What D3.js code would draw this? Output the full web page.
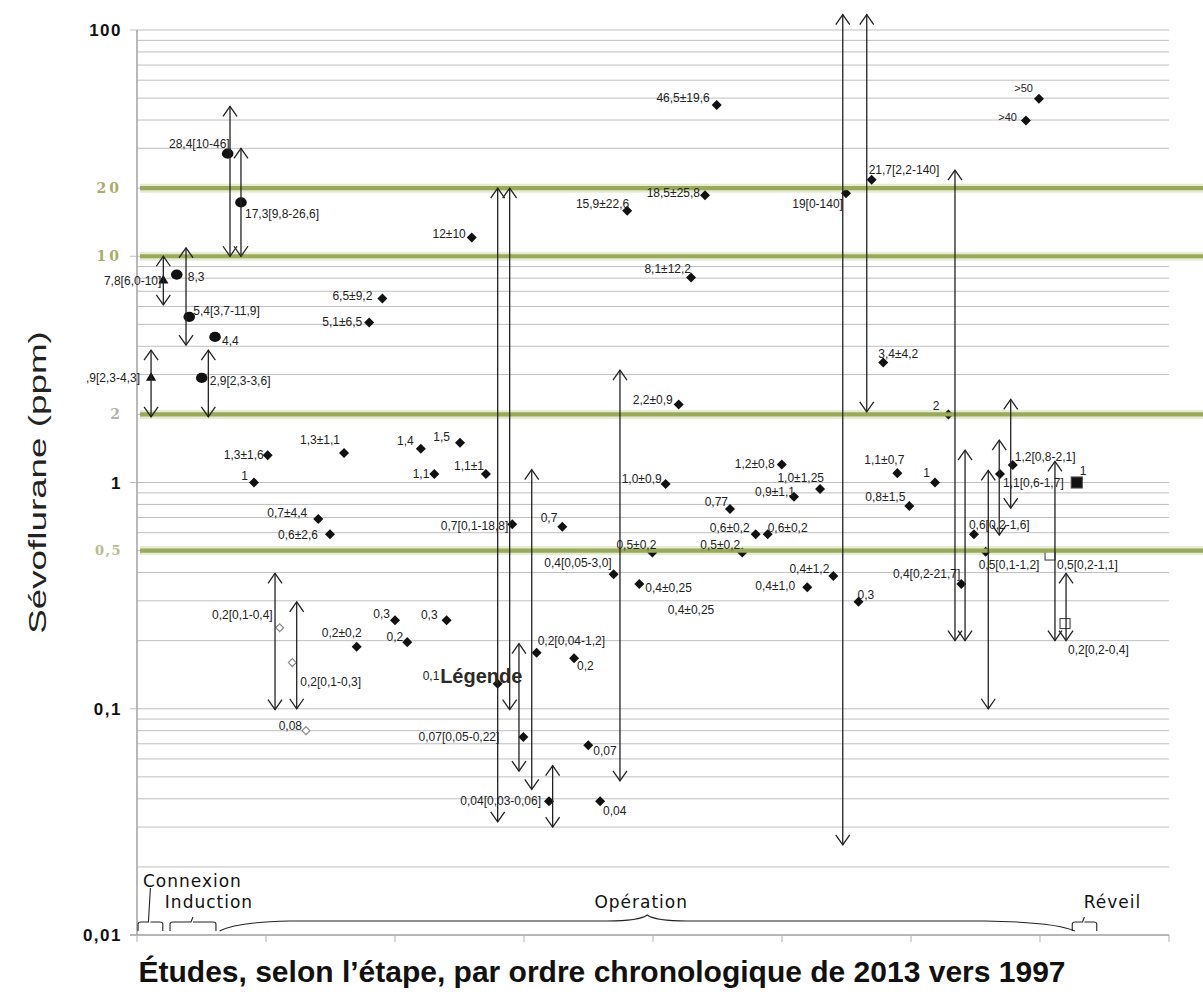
<!DOCTYPE html>
<html>
<head>
<meta charset="utf-8">
<script src="https://cdn.jsdelivr.net/npm/d3@7"></script>
<style>
  body { margin: 0; background: #fff; }
  text { font-family: "Liberation Sans", Arial, sans-serif; }
</style>
</head>
<body>
<div class="chart"></div>
<script>
// ---- data (x = study rank, value = sevoflurane ppm) ----
const studyX = [1.09, 2.04, 3.08, 4.05, 5.02, 6.05, 7.03, 8.06, 9.07, 10.13,
  11.06, 12.04, 13.1, 14.05, 14.96, 16.05, 17.03, 18.0, 19.02, 20.0,
  20.95, 22.0, 23.05, 24.0, 25.04, 25.95, 27.05, 27.96, 29.09, 29.95,
  30.98, 31.94, 32.97, 33.88, 34.98, 35.9, 36.95, 38.0, 38.94, 39.95,
  40.98, 40.98, 41.99, 42.95, 44.03, 44.94, 45.97, 46.92, 47.96, 48.89,
  49.98, 50.93, 51.96, 52.95, 53.98, 54.96, 55.93, 56.95, 57.85, 58.94,
  59.87, 61.86, 62.9, 63.9, 64.88, 65.79, 66.9, 67.89, 68.91, 69.92,
  70.78, 71.94, 72.85];
const studyValue = [2.9, 7.8, 8.3, 5.4, 2.9, 4.4, 28.4, 17.3, 1.0, 1.32,
  0.228, 0.16, 0.08, 0.69, 0.59, 1.35, 0.188, 5.1, 6.5, 0.246,
  0.197, 1.41, 1.09, 0.246, 1.5, 12.1, 1.09, 0.129, 0.654, 0.075,
  0.177, 0.039, 0.638, 0.167, 0.069, 0.039, 0.393, 15.9, 0.356, 0.49,
  0.29, 0.985, 2.21, 8.05, 18.6, 46.6, 0.763, 0.49, 0.59, 0.59,
  1.2, 0.866, 0.344, 0.936, 0.386, 19, 0.297, 21.8, 3.39, 1.1,
  0.787, 1.0, 2.0, 0.356, 0.59, 0.494, 1.09, 1.195, 39.8, 49.7,
  0.478, 0.238, 1.0];
const studyLabel = [",9[2,3-4,3]", "7,8[6,0-10]", "8,3", "5,4[3,7-11,9]", "2,9[2,3-3,6]", "4,4", "28,4[10-46]", "17,3[9,8-26,6]", "1", "1,3±1,6",
  "0,2[0,1-0,4]", "0,2[0,1-0,3]", "0,08", "0,7±4,4", "0,6±2,6", "1,3±1,1", "0,2±0,2", "5,1±6,5", "6,5±9,2", "0,3",
  "0,2", "1,4", "1,1", "0,3", "1,5", "12±10", "1,1±1", "0,1", "0,7[0,1-18,8]", "0,07[0,05-0,22]",
  "0,2[0,04-1,2]", "0,04[0,03-0,06]", "0,7", "0,2", "0,07", "0,04", "0,4[0,05-3,0]", "15,9±22,6", "0,4±0,25", "0,5±0,2",
  "0,4±0,25", "1,0±0,9", "2,2±0,9", "8,1±12,2", "18,5±25,8", "46,5±19,6", "0,77", "0,5±0,2", "0,6±0,2", "0,6±0,2",
  "1,2±0,8", "0,9±1,1", "0,4±1,0", "1,0±1,25", "0,4±1,2", "19[0-140]", "0,3", "21,7[2,2-140]", "3,4±4,2", "1,1±0,7",
  "0,8±1,5", "1", "2", "0,4[0,2-21,7]", "0,6[0,2-1,6]", "0,5[0,1-1,2]", "1,1[0,6-1,7]", "1,2[0,8-2,1]", ">40", ">50",
  "0,5[0,2-1,1]", "0,2[0,2-0,4]", "1"];
const studyMarker = ["tri", "tri", "circle", "circle", "circle", "circle", "circle", "circle", "diamond", "diamond",
  "open", "open", "open", "diamond", "diamond", "diamond", "diamond", "diamond", "diamond", "diamond",
  "diamond", "diamond", "diamond", "diamond", "diamond", "diamond", "diamond", "diamond", "diamond", "diamond",
  "diamond", "diamond", "diamond", "diamond", "diamond", "diamond", "diamond", "diamond", "diamond", "diamond",
  "none", "diamond", "diamond", "diamond", "diamond", "diamond", "diamond", "diamond", "diamond", "diamond",
  "diamond", "diamond", "diamond", "diamond", "diamond", "diamond", "diamond", "diamond", "diamond", "diamond",
  "diamond", "diamond", "diamond", "diamond", "diamond", "diamond", "diamond", "diamond", "diamond", "diamond",
  "openSquare", "openSquare", "square"];

// ranges drawn as double arrows
const rangeX = [1.09, 2.04, 3.8, 5.53, 7.21, 8.06, 10.7, 12.38, 27.96, 28.89, 29.61, 30.6,
  32.22, 37.44, 54.71, 56.57, 63.41, 64.19, 65.99, 66.84, 67.73, 71.16, 72.02];
const rangeLo = [1.95, 6.1, 4.05, 1.95, 10, 10, 0.099, 0.1, 0.0316, 0.099, 0.053, 0.044,
  0.03, 0.048, 0.025, 2.05, 0.2, 0.2, 0.1, 0.586, 0.77, 0.2, 0.2];
const rangeHi = [3.85, 10, 10.9, 3.85, 46, 30, 0.397, 0.297, 20, 20, 0.194, 1.14,
  0.056, 3.14, 117, 117, 24, 1.39, 1.13, 1.54, 2.33, 1.24, 0.397];

const refLines = [20, 10, 2, 0.5];
const yTickValues = [100, 20, 10, 2, 1, 0.5, 0.1, 0.01];
const yTickLabels = ["100", "20", "10", "2", "1", "0,5", "0,1", "0,01"];

const phases = ["Connexion", "Induction", "Opération", "Réveil"];
const phaseFrom = [0.08, 2.56, 6.4, 72.5];
const phaseTo = [2.0, 6.12, 72.7, 74.4];

const legendTitle = "Légende";
const xTitle = "Études, selon l’étape, par ordre chronologique de 2013 vers 1997";
const yTitle = "Sévoflurane (ppm)";

// ---- layout (label anchor, dx, dy relative to the point) ----
const labelPlace = [["end",-11,0],["end",-2,0],["start",11,2],["start",4,-6],["start",8,3],["start",7,4],["end",2,-10],["start",4,11],["end",-6,-7],["end",-4,0],
  ["end",-7,-13],["start",8,19],["end",-4,-5],["end",-11,-6],["end",-12,0],["end",-4,-13],["end",5,-14],["end",-7,-1],["end",-10,-3],["end",-5,-7],
  ["end",-4,-5],["end",-7,-8],["end",-5,0],["end",-9,-6],["end",-10,-6],["end",-6,-4],["end",-2,-8],["start",-75,-8],["end",-4,2],["end",-24,0],
  ["start",1,-12],["end",-8,0],["end",-5,-9],["start",3,7],["start",5,6],["start",3,10],["end",-2,-11],["end",2,-7],["start",6,4],["end",4,-8],
  ["start",2,6],["end",-4,-5],["end",-6,-5],["end",0,-9],["end",-5,-2],["end",-7,-7],["end",-2,-7],["end",-2,-8],["end",-6,-7],["start",0,-7],
  ["end",-7,-1],["end",1,-5],["end",-12,-2],["end",4,-11],["end",-4,-7],["end",-3,11],["start",-1,-7],["start",-3,-10],["start",-5,-9],["end",7,-13],
  ["end",-4,-9],["end",-5,-10],["end",-9,-9],["end",-1,-10],["start",-5,-10],["start",-7,13],["start",3,9],["start",2,-8],["end",-9,-3],["end",-6,-11],
  ["start",7,10],["start",3,26],["start",3,-12]];
const phaseLabelDx = [42, 16, -6, 28];
const phaseLabelRow = [0, 1, 1, 1];

const width = 1203, height = 999;
const svg = d3.select(".chart").append("svg")
    .attr("width", width)
    .attr("height", height);

const x = d3.scaleLinear().domain([0, 80]).range([137, 1169]);
const y = d3.scaleLog().domain([0.01, 100]).range([935, 30]);

const isMajor = d => Math.abs(Math.log10(d) - Math.round(Math.log10(d))) < 1e-6;

// grid
svg.append("g").selectAll("line")
    .data(y.ticks())
    .join("line")
    .attr("x1", d => isMajor(d) ? 130 : x(0))
    .attr("x2", x(80))
    .attr("y1", d => y(d)).attr("y2", d => y(d))
    .attr("stroke", "#bfbfbf")
    .attr("stroke-width", 1);

// axes lines
svg.append("line")
    .attr("x1", x(0)).attr("x2", x(0))
    .attr("y1", y(100)).attr("y2", y(0.01))
    .attr("stroke", "#a8a8a8").attr("stroke-width", 1.6);
svg.append("line")
    .attr("x1", 130).attr("x2", x(80))
    .attr("y1", y(0.01)).attr("y2", y(0.01))
    .attr("stroke", "#a8a8a8").attr("stroke-width", 1.4);
svg.append("g").selectAll("line")
    .data(x.ticks(8))
    .join("line")
    .attr("x1", d => x(d)).attr("x2", d => x(d))
    .attr("y1", y(0.01)).attr("y2", y(0.01) + 7)
    .attr("stroke", "#b0b0b0");

// soft halo of the reference lines (under the markers)
const ref = svg.append("g");
ref.selectAll("line.halo")
    .data(refLines).join("line")
    .attr("x1", x(0) + 3).attr("x2", width)
    .attr("y1", d => y(d)).attr("y2", d => y(d))
    .attr("stroke", "#e6ebd3").attr("stroke-width", 9);

// markers
const pts = studyX.map((d, i) => ({ x: d, v: studyValue[i], label: studyLabel[i], m: studyMarker[i], p: labelPlace[i] }));
const mk = svg.append("g");
mk.selectAll("path.dia")
    .data(pts.filter(d => d.m === "diamond"))
    .join("path")
    .attr("transform", d => `translate(${x(d.x)},${y(d.v)})`)
    .attr("d", d3.symbol(d3.symbolDiamond2, 64))
    .attr("fill", "#111");
mk.selectAll("path.open")
    .data(pts.filter(d => d.m === "open"))
    .join("path")
    .attr("transform", d => `translate(${x(d.x)},${y(d.v)})`)
    .attr("d", d3.symbol(d3.symbolDiamond2, 40))
    .attr("fill", "#fff").attr("stroke", "#8a8a8a").attr("stroke-width", 1.2);
mk.selectAll("path.tri")
    .data(pts.filter(d => d.m === "tri"))
    .join("path")
    .attr("transform", d => `translate(${x(d.x)},${y(d.v)})`)
    .attr("d", d3.symbol(d3.symbolTriangle, 45))
    .attr("fill", "#111");
mk.selectAll("ellipse")
    .data(pts.filter(d => d.m === "circle"))
    .join("ellipse")
    .attr("cx", d => x(d.x)).attr("cy", d => y(d.v))
    .attr("rx", 5.8).attr("ry", 5.1)
    .attr("fill", "#111");
mk.selectAll("rect")
    .data(pts.filter(d => d.m === "square" || d.m === "openSquare"))
    .join("rect")
    .attr("x", d => x(d.x) - (d.m === "square" ? 5.5 : 5))
    .attr("y", d => y(d.v) - (d.m === "square" ? 5.5 : 5))
    .attr("width", d => d.m === "square" ? 11 : 10)
    .attr("height", d => d.m === "square" ? 11 : 10)
    .attr("fill", d => d.m === "square" ? "#111" : "#fff")
    .attr("stroke", "#444").attr("stroke-width", 1.1);

// green reference lines (over the markers)
svg.append("g").selectAll("line")
    .data(refLines).join("line")
    .attr("x1", x(0) + 3).attr("x2", width)
    .attr("y1", d => y(d)).attr("y2", d => y(d))
    .attr("stroke", "#98a95a").attr("stroke-width", 4.2);

// double arrows
const ranges = rangeX.map((d, i) => ({ x: d, lo: rangeLo[i], hi: rangeHi[i] }));
const arr = svg.append("g").attr("stroke", "#222").attr("stroke-width", 1.3).attr("fill", "none");
arr.selectAll("line")
    .data(ranges).join("line")
    .attr("x1", d => x(d.x)).attr("x2", d => x(d.x))
    .attr("y1", d => y(d.hi)).attr("y2", d => y(d.lo));
arr.selectAll("path.top")
    .data(ranges).join("path")
    .attr("d", d => `M${x(d.x) - 7},${y(d.hi) + 10}L${x(d.x)},${y(d.hi)}L${x(d.x) + 7},${y(d.hi) + 10}`);
arr.selectAll("path.bot")
    .data(ranges).join("path")
    .attr("class", "bot")
    .attr("d", d => `M${x(d.x) - 7},${y(d.lo) - 10}L${x(d.x)},${y(d.lo)}L${x(d.x) + 7},${y(d.lo) - 10}`);

// point labels
svg.append("g").selectAll("text")
    .data(pts).join("text")
    .attr("x", d => x(d.x) + d.p[1])
    .attr("y", d => y(d.v) + d.p[2])
    .attr("dy", "0.35em")
    .attr("text-anchor", d => d.p[0])
    .attr("font-size", d => d.label[0] === ">" ? 11 : 12)
    .attr("fill", "#222")
    .text(d => d.label);

// "Légende" overlaid text
svg.append("text")
    .attr("x", x(23.5)).attr("y", y(0.1396))
    .attr("dy", "0.35em")
    .attr("font-size", 20).attr("font-weight", "bold")
    .attr("fill", "#2a2a2a")
    .text(legendTitle);

// y tick labels
const tickStyle = {
  "100": ["#111", "bold", 17, 1.5, "Liberation Sans"],
  "1": ["#111", "bold", 17, 1.5, "Liberation Sans"],
  "0,1": ["#111", "bold", 17, 1.5, "Liberation Sans"],
  "0,01": ["#111", "bold", 17, 1.5, "Liberation Sans"],
  "20": ["#a5ad68", "bold", 14, 3, "DejaVu Serif"],
  "10": ["#a5ad68", "bold", 14, 3, "DejaVu Serif"],
  "2": ["#b2b2aa", "bold", 14, 0, "DejaVu Serif"],
  "0,5": ["#b9bb8e", "bold", 13, 1.5, "DejaVu Serif"]
};
svg.append("g").selectAll("text")
    .data(yTickValues).join("text")
    .attr("x", (d, i) => yTickLabels[i] === "2" ? 120 : 122)
    .attr("y", d => y(d))
    .attr("dy", "0.36em")
    .attr("text-anchor", "end")
    .attr("fill", (d, i) => tickStyle[yTickLabels[i]][0])
    .attr("font-weight", (d, i) => tickStyle[yTickLabels[i]][1])
    .attr("font-size", (d, i) => tickStyle[yTickLabels[i]][2])
    .attr("letter-spacing", (d, i) => tickStyle[yTickLabels[i]][3])
    .style("font-family", (d, i) => tickStyle[yTickLabels[i]][4])
    .text((d, i) => yTickLabels[i]);

// axis titles
svg.append("text")
    .attr("transform", `translate(46,${y(1)}) rotate(-90) scale(1.6,1)`)
    .attr("text-anchor", "middle")
    .attr("font-size", 23)
    .attr("fill", "#222")
    .text(yTitle);
svg.append("text")
    .attr("x", 602).attr("y", 982)
    .attr("text-anchor", "middle")
    .attr("font-size", 30).attr("font-weight", "bold")
    .attr("fill", "#111")
    .text(xTitle);

// phase braces along the x axis
const base = y(0.01) - 13;
const br = svg.append("g").attr("fill", "none").attr("stroke", "#222").attr("stroke-width", 1.1);
phases.forEach((name, i) => {
  const x0 = x(phaseFrom[i]), x1 = x(phaseTo[i]), xc = (x0 + x1) / 2;
  let d;
  if (x1 - x0 > 200) {
    d = `M${x0},${base + 9} Q${x0 + 18},${base} ${x0 + 70},${base - 1}` +
        ` L${xc - 40},${base - 1} Q${xc - 8},${base - 1} ${xc},${base - 7}` +
        ` Q${xc + 8},${base - 1} ${xc + 40},${base - 1} L${x1 - 90},${base - 1}` +
        ` Q${x1 - 20},${base} ${x1},${base + 9}`;
  } else {
    const tip = phaseLabelRow[i] === 0 ? 34 : 5;
    d = `M${x0},${base + 9} L${x0},${base + 2} Q${x0},${base} ${x0 + 3},${base}` +
        ` L${xc - 2},${base} L${xc},${base - tip} M${xc},${base} L${xc + 2},${base}` +
        ` L${x1 - 3},${base} Q${x1},${base} ${x1},${base + 2} L${x1},${base + 9}`;
  }
  br.append("path").attr("d", d);
  svg.append("text")
    .attr("x", xc + phaseLabelDx[i])
    .attr("y", phaseLabelRow[i] === 0 ? base - 35 : base - 14)
    .attr("text-anchor", "middle")
    .attr("font-size", 17)
    .attr("letter-spacing", 1)
    .style("font-family", "DejaVu Sans")
    .attr("fill", "#111")
    .text(name);
});
</script>
</body>
</html>
